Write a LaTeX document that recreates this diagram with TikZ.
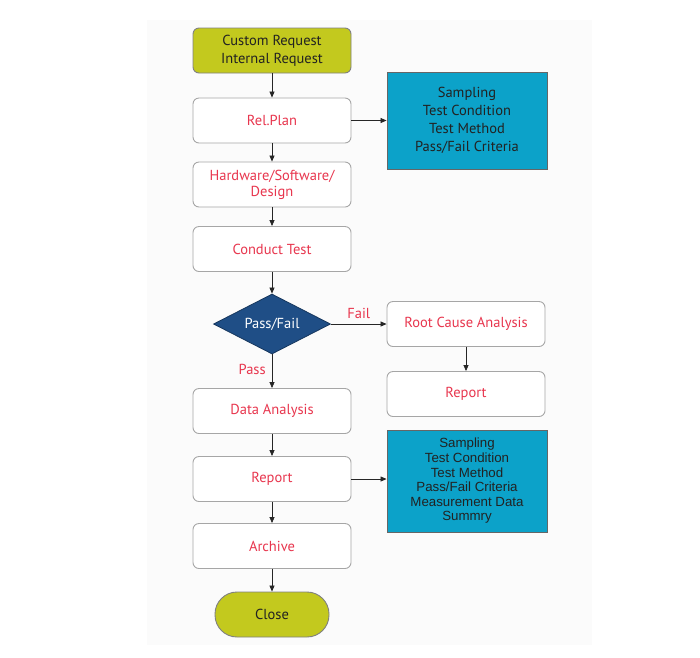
\documentclass[tikz,border=0pt]{standalone}
\usepackage{fontspec}
\setmainfont{PT Sans}
\newfontfamily\arialfont{Liberation Sans}
\usetikzlibrary{shapes.geometric,arrows.meta}
\definecolor{olive}{HTML}{C3C91E}
\definecolor{infoblue}{HTML}{0CA2C9}
\definecolor{decblue}{HTML}{1F4E86}
\definecolor{redtxt}{HTML}{E8364E}
\definecolor{boxline}{HTML}{A6A6A6}
\definecolor{txtdark}{HTML}{222222}
\definecolor{panel}{HTML}{FBFBFB}
\tikzset{
  stepbox/.style={draw=boxline, line width=0.9pt, fill=white, rounded corners=6pt,
    minimum width=158pt, minimum height=45pt, inner sep=0pt, text=redtxt,
    font=\fontsize{14.5}{16}\selectfont, align=center},
  startbox/.style={stepbox, fill=olive, draw=gray, text=txtdark, font=\fontsize{14.5}{18}\selectfont},
  infobox/.style={draw=black!60, line width=0.9pt, fill=infoblue, minimum width=160pt,
    inner sep=0pt, text=txtdark, align=center},
  decbox/.style={diamond, draw=decblue!70!black, line width=0.8pt, fill=decblue, text=white,
    minimum width=117pt, minimum height=60pt, inner xsep=-8pt, inner ysep=-4pt, aspect=1.95,
    font=\fontsize{14.5}{16}\selectfont},
  endbox/.style={draw=gray, line width=0.9pt, fill=olive, rounded corners=22pt,
    minimum width=114pt, minimum height=45pt, inner sep=0pt, text=txtdark, font=\fontsize{14.5}{16}\selectfont},
  arr/.style={draw=black!85, line width=0.7pt, -{Triangle[length=6pt,width=5pt]}},
  lbl/.style={text=redtxt, font=\fontsize{14.5}{16}\selectfont, inner sep=0pt}
}
\begin{document}
\begin{tikzpicture}[x=1pt,y=-1pt]
\useasboundingbox (0,0) rectangle (700,657);
\fill[panel] (147,20) rectangle (592,645);
\node[startbox] (req) at (272,50.5) {Custom Request\\Internal Request};
\node[stepbox] (plan) at (272,120.5) {Rel.Plan};
\node[stepbox] (hw) at (272,184.5) {Hardware/Software/\\Design};
\node[stepbox] (ct) at (272,249) {Conduct Test};
\node[decbox] (dec) at (272,324) {Pass/Fail};
\node[stepbox] (da) at (272,411) {Data Analysis};
\node[stepbox] (rpt) at (272,479) {Report};
\node[stepbox] (arch) at (272,546) {Archive};
\node[endbox] (close) at (272,614.5) {Close};
\node[infobox, minimum height=97pt, font=\fontsize{14.5}{18}\selectfont] (info1) at (467,120.5)
  {Sampling\\Test Condition\\Test Method\\Pass/Fail Criteria};
\node[stepbox] (rca) at (466,324) {Root Cause Analysis};
\node[stepbox] (rpt2) at (466,394) {Report};
\node[infobox, minimum height=102pt, font=\arialfont\fontsize{13.3}{14.6}\selectfont] (info2) at (467,481)
  {Sampling\\Test Condition\\Test Method\\Pass/Fail Criteria\\Measurement Data\\Summry};
\draw[arr] (req) -- (plan);
\draw[arr] (plan) -- (hw);
\draw[arr] (hw) -- (ct);
\draw[arr] (ct) -- (dec);
\draw[arr] (dec) -- (da) node[lbl, pos=0.45, left=6pt] {Pass};
\draw[arr] (da) -- (rpt);
\draw[arr] (rpt) -- (arch);
\draw[arr] (arch) -- (close);
\draw[arr] (plan.east) -- (plan.east -| info1.west);
\draw[arr] (rpt.east) -- (rpt.east -| info2.west);
\draw[arr] (dec.east) -- (rca.west) node[lbl, midway, above=5pt] {Fail};
\draw[arr] (rca) -- (rpt2);
\end{tikzpicture}
\end{document}
